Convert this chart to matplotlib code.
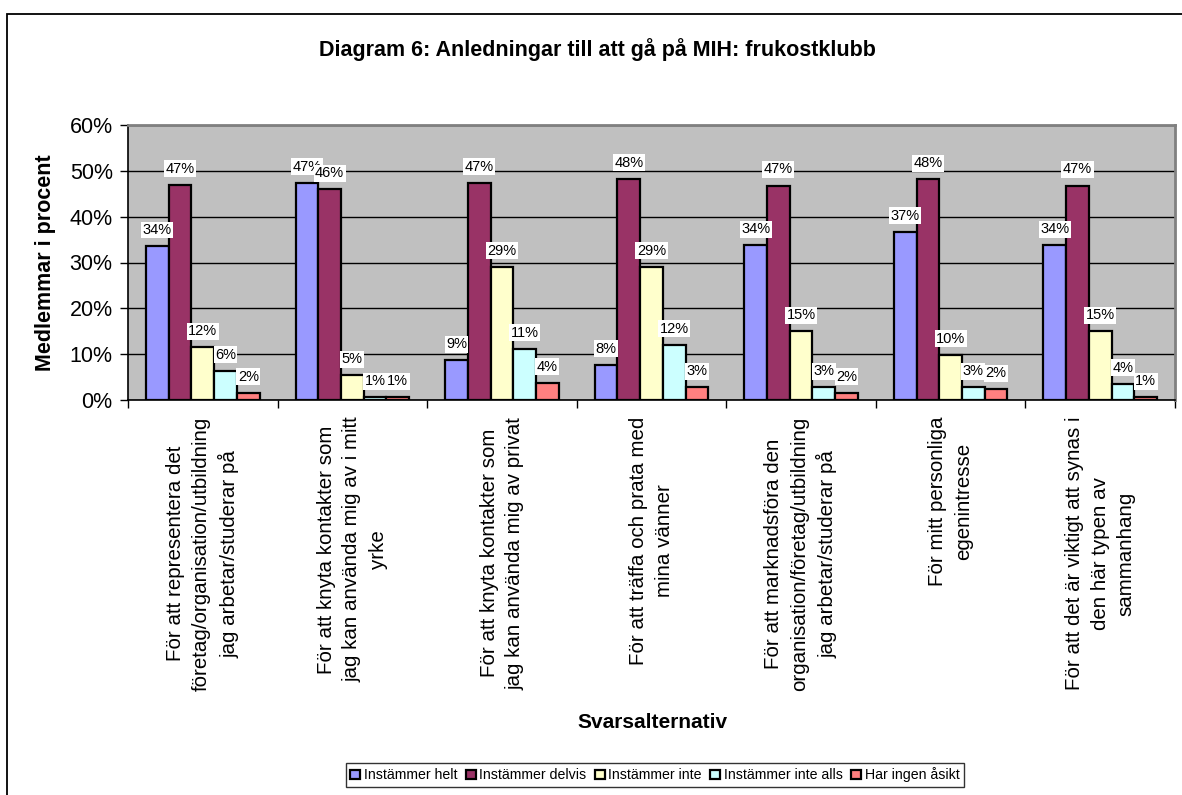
import matplotlib
matplotlib.use("Agg")
import matplotlib.pyplot as plt
from matplotlib.patches import Rectangle
import numpy as np

plt.rcParams['font.family'] = ['Liberation Sans', 'DejaVu Sans']

categories = [
    "För att representera det\nföretag/organisation/utbildning\njag arbetar/studerar på",
    "För att knyta kontakter som\njag kan använda mig av i mitt\nyrke",
    "För att knyta kontakter som\njag kan använda mig av privat",
    "För att träffa och prata med\nmina vänner",
    "För att marknadsföra den\norganisation/företag/utbildning\njag arbetar/studerar på",
    "För mitt personliga\negenintresse",
    "För att det är viktigt att synas i\nden här typen av\nsammanhang",
]
series_names = ["Instämmer helt", "Instämmer delvis", "Instämmer inte",
                "Instämmer inte alls", "Har ingen åsikt"]

# andel svar i procent per svarsalternativ
helt = [33.6, 47.4, 8.7, 7.7, 33.8, 36.7, 33.8]
delvis = [47.0, 46.0, 47.4, 48.3, 46.8, 48.2, 46.8]
inte = [11.5, 5.4, 29.1, 29.1, 15.0, 9.9, 15.0]
inte_alls = [6.4, 0.6, 11.2, 12.1, 2.8, 2.8, 3.5]
ingen_asikt = [1.6, 0.6, 3.8, 2.8, 1.6, 2.3, 0.6]

series = [helt, delvis, inte, inte_alls, ingen_asikt]
colors = ["#9999FF", "#993366", "#FFFFCC", "#CCFFFF", "#FF8080"]

fig = plt.figure(figsize=(11.82, 7.95), dpi=100)
ax = fig.add_axes([128 / 1182, 1 - 400 / 795, 1047 / 1182, 275 / 795])

# ram runt hela diagramytan
fig.patches.append(Rectangle((7 / 1182, -0.1), 1.2, 1 - 14 / 795 + 0.1,
                             transform=fig.transFigure, fill=False,
                             edgecolor="black", linewidth=1.3))

x = np.arange(len(categories))
w = 0.152
for i, (vals, name, col) in enumerate(zip(series, series_names, colors)):
    bars = ax.bar(x + (i - 2) * w, vals, w, color=col, edgecolor="black",
                  linewidth=1.6, label=name, zorder=3)
    ax.bar_label(bars, labels=[f"{v:.0f}%" for v in vals], padding=6.5,
                 fontsize=10.5,
                 bbox=dict(facecolor="white", edgecolor="none", pad=1.0),
                 zorder=4)

ax.set_facecolor("#C0C0C0")
ax.set_xlim(-0.5, len(categories) - 0.5)
ax.set_ylim(0, 60)
ax.set_yticks(range(0, 61, 10))
ax.set_yticklabels([f"{t}%" for t in range(0, 61, 10)], fontsize=15.5)
ax.yaxis.grid(True, color="black", linewidth=1.0, zorder=1)
ax.set_axisbelow(True)

ax.set_xticks(x)
ax.set_xticklabels(categories, rotation=90, fontsize=14.8, linespacing=1.45,
                   ha="center", va="top", multialignment="center")
ax.tick_params(axis="x", length=0, pad=12)
ax.set_xticks(np.arange(-0.5, len(categories), 1), minor=True)
ax.tick_params(axis="x", which="minor", length=6, width=1, direction="out")
ax.tick_params(axis="y", length=6, width=1, direction="out", pad=5)

for s in ["top", "right"]:
    ax.spines[s].set_color("#808080")
    ax.spines[s].set_linewidth(2)
ax.spines["left"].set_linewidth(1.2)
ax.spines["bottom"].set_linewidth(1.2)

fig.text(46 / 1182, 1 - 263 / 795, "Medlemmar i procent", fontsize=15.5,
         fontweight="bold", rotation=90, ha="center", va="center")
fig.text(652 / 1182, 1 - 723 / 795, "Svarsalternativ", fontsize=15,
         fontweight="bold", ha="center", va="center")
fig.text(597 / 1182, 1 - 50 / 795,
         "Diagram 6: Anledningar till att gå på MIH: frukostklubb",
         fontsize=15.5, fontweight="bold", ha="center", va="center")

leg = fig.legend(loc="center", bbox_to_anchor=(655 / 1182, 1 - 775 / 795),
                 ncol=5, fontsize=10.2, frameon=True, fancybox=False,
                 edgecolor="black", handlelength=0.7, handleheight=0.7,
                 handletextpad=0.25, columnspacing=0.6, borderpad=0.3,
                 borderaxespad=0)
leg.get_frame().set_linewidth(1.0)

fig.savefig("out.png", dpi=100)
